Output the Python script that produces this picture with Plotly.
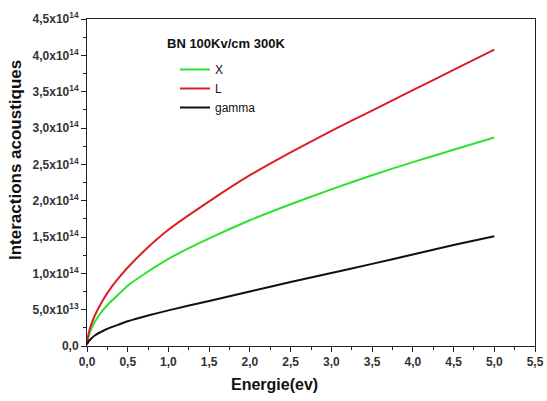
import plotly.graph_objects as go

energie = [0.0, 0.01, 0.02, 0.05, 0.1, 0.2, 0.3, 0.4, 0.5, 0.75, 1.0, 1.5, 2.0, 2.5, 3.0, 3.5, 4.0, 4.5, 5.0]
x_vals = [0.03e14, 0.095e14, 0.14e14, 0.23e14, 0.34e14, 0.50e14, 0.62e14, 0.725e14, 0.83e14, 1.025e14, 1.20e14, 1.48e14, 1.73e14, 1.95e14, 2.155e14, 2.35e14, 2.53e14, 2.70e14, 2.87e14]
l_vals = [0.03e14, 0.12e14, 0.17e14, 0.29e14, 0.43e14, 0.64e14, 0.81e14, 0.95e14, 1.08e14, 1.36e14, 1.60e14, 1.99e14, 2.35e14, 2.665e14, 2.96e14, 3.24e14, 3.52e14, 3.80e14, 4.08e14]
gamma_vals = [0.02e14, 0.045e14, 0.064e14, 0.10e14, 0.148e14, 0.21e14, 0.26e14, 0.30e14, 0.34e14, 0.42e14, 0.49e14, 0.62e14, 0.75e14, 0.88e14, 1.005e14, 1.13e14, 1.26e14, 1.39e14, 1.51e14]

x_ticks = [0, 0.5, 1, 1.5, 2, 2.5, 3, 3.5, 4, 4.5, 5, 5.5]
x_ticktext = ["0,0", "0,5", "1,0", "1,5", "2,0", "2,5", "3,0", "3,5", "4,0", "4,5", "5,0", "5,5"]
y_ticks = [0, 0.5e14, 1.0e14, 1.5e14, 2.0e14, 2.5e14, 3.0e14, 3.5e14, 4.0e14, 4.5e14]
y_ticktext = ["0,0", "5,0x10<sup>13</sup>", "1,0x10<sup>14</sup>", "1,5x10<sup>14</sup>",
              "2,0x10<sup>14</sup>", "2,5x10<sup>14</sup>", "3,0x10<sup>14</sup>",
              "3,5x10<sup>14</sup>", "4,0x10<sup>14</sup>", "4,5x10<sup>14</sup>"]

fig = go.Figure()
fig.add_trace(go.Scatter(x=energie, y=x_vals, mode="lines", name="X",
                         line=dict(color="#2fe02f", width=2, shape="spline", smoothing=0.5)))
fig.add_trace(go.Scatter(x=energie, y=l_vals, mode="lines", name="L",
                         line=dict(color="#dc1f26", width=2, shape="spline", smoothing=0.5)))
fig.add_trace(go.Scatter(x=energie, y=gamma_vals, mode="lines", name="gamma",
                         line=dict(color="#111111", width=2, shape="spline", smoothing=0.5)))

font_fam = "Liberation Sans, Arial, sans-serif"
L, R, T, B, W, H = 87, 12, 19, 55, 547, 401
pw, ph = W - L - R, H - T - B


def px(xp):
    return (xp - L) / pw


def py(yp):
    return (H - B - yp) / ph


fig.update_layout(
    width=W, height=H,
    margin=dict(l=L, r=R, t=T, b=B),
    paper_bgcolor="white", plot_bgcolor="white",
    font=dict(family=font_fam, color="#222"),
    showlegend=True,
    legend=dict(x=px(175), y=py(55), xanchor="left", yanchor="top",
                bgcolor="rgba(0,0,0,0)",
                font=dict(size=12, color="#111"),
                tracegroupgap=0, itemwidth=30),
    xaxis=dict(range=[0, 5.5], tickvals=x_ticks, ticktext=x_ticktext,
               ticks="outside", ticklen=5, tickwidth=1, tickcolor="#222",
               minor=dict(dtick=0.25, tick0=0, ticks="outside", ticklen=3, tickcolor="#222"),
               showline=True, linecolor="#222", linewidth=1, mirror=True,
               showgrid=False, zeroline=False, automargin=False,
               tickfont=dict(size=12, color="#333", family=font_fam, weight="bold")),
    yaxis=dict(range=[0, 4.5e14], tickvals=y_ticks, ticktext=y_ticktext,
               ticks="outside", ticklen=5, tickwidth=1, tickcolor="#222",
               minor=dict(dtick=0.25e14, tick0=0, ticks="outside", ticklen=3, tickcolor="#222"),
               showline=True, linecolor="#222", linewidth=1, mirror=True,
               showgrid=False, zeroline=False, automargin=False,
               tickfont=dict(size=12, color="#333", family=font_fam, weight="bold")),
    annotations=[
        dict(text="<b>BN 100Kv/cm 300K</b>", xref="paper", yref="paper",
             x=px(165), y=py(43), xanchor="left", yanchor="middle", showarrow=False,
             font=dict(size=13, color="#111")),
        dict(text="<b>Energie(ev)</b>", xref="paper", yref="paper",
             x=px(274), y=py(384), xanchor="center", yanchor="middle", showarrow=False,
             font=dict(size=16, color="#111")),
        dict(text="<b>Interactions acoustiques</b>", xref="paper", yref="paper",
             x=px(15), y=py(160), xanchor="center", yanchor="middle", showarrow=False,
             textangle=-90, font=dict(size=17, color="#111")),
    ],
)

fig.write_html("out.html", config={"displayModeBar": False},
               post_script="document.body.style.margin='0';document.body.style.overflow='hidden';")
